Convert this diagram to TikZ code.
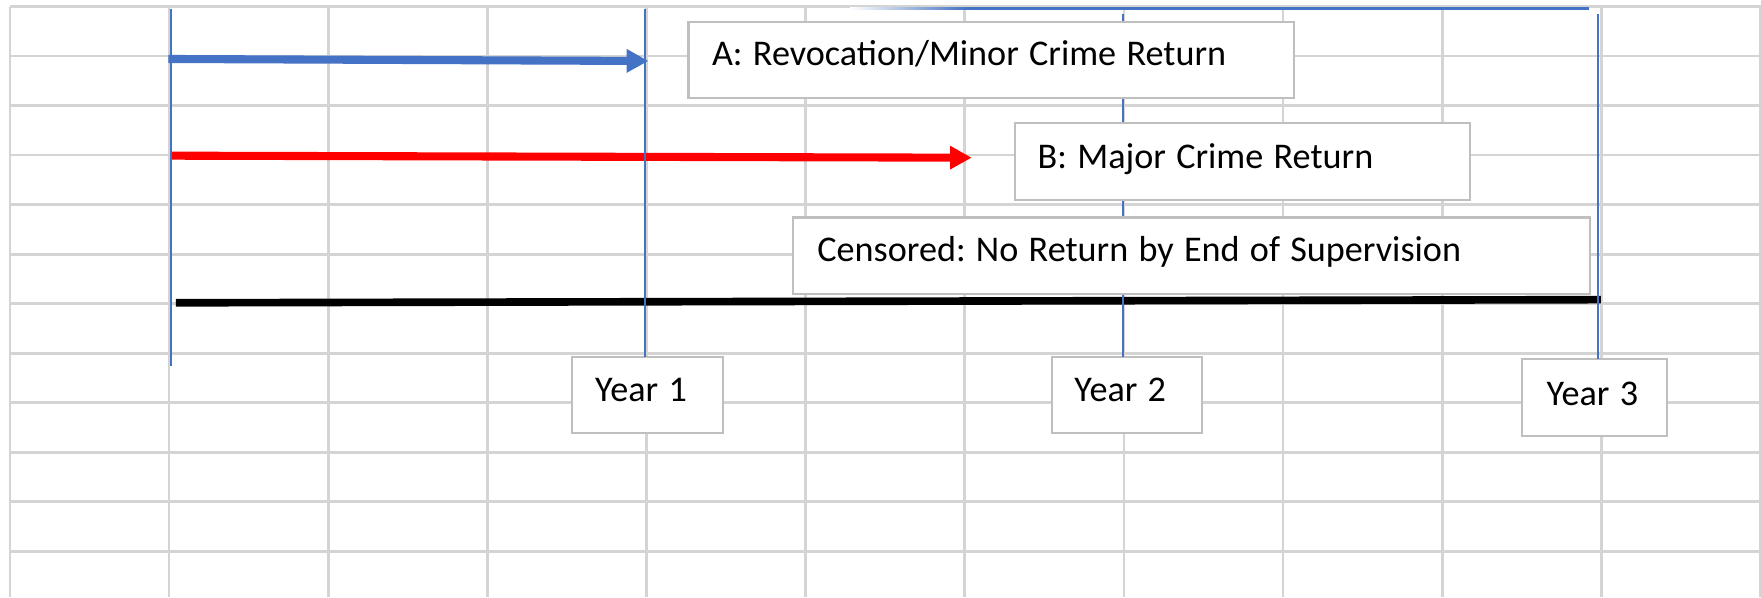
\documentclass[tikz,border=0pt]{standalone}
\usepackage{fontspec}
\setmainfont{Carlito}
\frenchspacing
\usetikzlibrary{arrows.meta}
\definecolor{gridgray}{RGB}{212,212,212}
\definecolor{boxgray}{RGB}{191,191,191}
\definecolor{lineblue}{RGB}{68,114,196}
\definecolor{arrred}{RGB}{255,0,0}
\newcommand\mylabelfont{\fontsize{16.1}{19}\selectfont\frenchspacing}
\newcommand\mytightspaces{\spaceskip=0.285em\relax\xspaceskip=0.285em\relax}
\tikzset{
  gridline/.style={draw=gridgray, line width=1.2pt},
  yearline/.style={draw=lineblue, line width=0.9pt},
  tbox/.style={draw=boxgray, line width=1pt, fill=white, anchor=north west,
    inner ysep=0pt, outer sep=0pt, align=left, font=\mylabelfont,
    execute at begin node=\mytightspaces},
  arrA/.style={draw=lineblue, line width=3.6pt, -{Triangle[length=9.65pt,width=9.9pt]}},
  arrB/.style={draw=arrred, line width=3.6pt, -{Triangle[length=9.65pt,width=9.9pt]}},
  censline/.style={draw=black, line width=3.4pt}
}
\begin{document}
\begin{tikzpicture}[x=0.5pt,y=-0.5pt]
\useasboundingbox (0,0) rectangle (1568,532);
\fill[white] (0,0) rectangle (1568,532);
% spreadsheet grid
\foreach \j in {0,...,11} {
  \draw[gridline] (8.8+141.7*\j,5.8) -- (8.8+141.7*\j,532);
}
\foreach \k in {0,...,11} {
  \draw[gridline] (8.8,5.8+44.1*\k) -- (1568,5.8+44.1*\k);
}
% named points
\coordinate (aS) at (150,52.5);
\coordinate (aE) at (577.3,54.3);
\coordinate (bS) at (152,138.6);
\coordinate (bE) at (865.2,140.4);
\coordinate (cS) at (156.7,269.6);
\coordinate (cE) at (1425.5,266.8);
\coordinate (s0t) at (152,8.3);
\coordinate (s0b) at (152,326);
\coordinate (t1) at (574.5,8.3);
\coordinate (t2) at (1000,12.5);
\coordinate (t3) at (1423,12.5);
\coordinate (tb1) at (861,7.6);
\coordinate (tb2) at (1415,7.6);
% arrows
\draw[arrA] (aS) -- (aE);
\draw[arrB] (bS) -- (bE);
\draw[censline] (cS) -- (cE);
% year boxes
\node[tbox, inner xsep=10.5pt, text width=46.5pt, text height=20pt, text depth=14.1pt] (y1) at (509,317.6) {Year 1};
\node[tbox, inner xsep=10pt, text width=46.65pt, text height=20pt, text depth=14.1pt] (y2) at (936.7,317.6) {Year 2};
\node[tbox, inner xsep=11pt, text width=42.5pt, text height=20.45pt, text depth=13.7pt] (y3) at (1355,319.7) {Year 3};
% blue time lines
\shade[left color=white, right color=lineblue] (757,6.8) rectangle (861,8.6);
\draw[yearline, line width=1pt] (tb1) -- (tb2);
\draw[yearline] (s0t) -- (s0b);
\draw[yearline] (t1) -- (t1 |- y1.north);
\draw[yearline] (t2) -- (t2 |- y2.north);
\draw[yearline] (t3) -- (t3 |- y3.north);
% label boxes
\node[tbox, inner xsep=10.5pt, text width=248.5pt, text height=19.7pt, text depth=14.3pt] (boxA) at (613,19.3) {A: Revocation/Minor Crime Return};
\node[tbox, inner xsep=10.25pt, text width=182.25pt, text height=20.1pt, text depth=14pt] (boxB) at (903.5,109.8) {B: Major Crime Return};
\node[tbox, inner xsep=10.9pt, text width=333.2pt, text height=19.7pt, text depth=14.5pt] (boxC) at (706,193.6) {Censored: No Return by End of Supervision};
\end{tikzpicture}
\end{document}
